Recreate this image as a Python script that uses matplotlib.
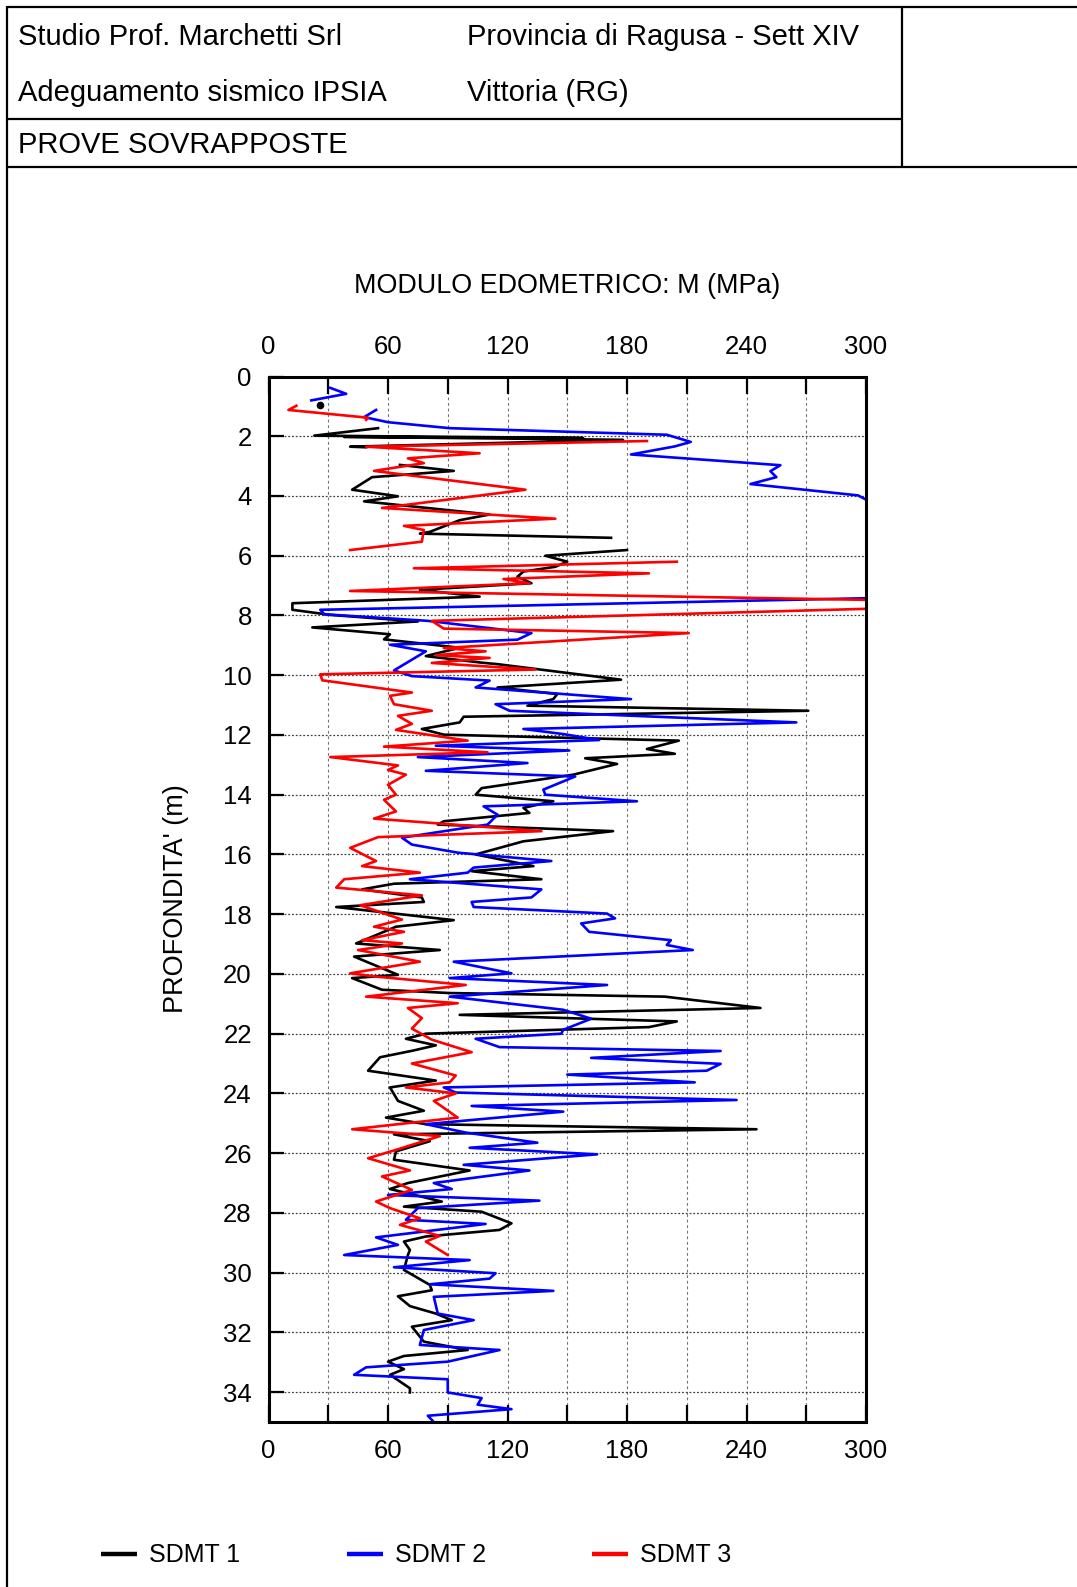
import numpy as np
import matplotlib
matplotlib.use("Agg")
import matplotlib.pyplot as plt
from matplotlib.lines import Line2D
from matplotlib.ticker import MultipleLocator, FuncFormatter

plt.rcParams['font.family'] = ['Liberation Sans', 'DejaVu Sans']

nan = np.nan

# ---------------------------------------------------------------- data
# SDMT 1 (black): depth (m) and constrained modulus M (MPa); nan = gap
sdmt1_depth = [1.73, 1.98, 2.06, 2.02, 2.12, 2.35, 2.37, nan, 2.96, 3.16, 3.37, 3.79,
               4.01, 4.18, 4.62, 4.81, 5.2, 5.26, 5.4, nan, 5.81, 6.0, 6.2, 6.37, 6.53,
               6.7, 6.92, 7.14, 7.37, 7.59, 7.81, 7.98, 8.2, 8.4, 8.63, 8.8, 9.08, 9.36,
               9.58, 9.63, 10.15, 10.41, 10.63, 10.8, 11.02, 11.19, 11.39, 11.58, 11.8,
               11.99, 12.19, 12.47, 12.63, 12.78, 12.97, 13.33, 13.78, 14.0, 14.22, 14.44,
               14.61, 14.89, 15.0, 15.22, 15.56, 16.0, 16.39, 16.56, 16.83, 16.98, 17.17,
               17.44, 17.59, 17.76, 18.2, 18.42, 18.98, 19.2, 19.42, 20.03, 20.14, 20.53,
               20.64, 20.76, 21.14, 21.37, 21.59, 21.78, 22.0, 22.17, 22.39, 22.56, 22.79,
               23.24, 23.57, 23.8, 24.25, 24.58, 24.81, 25.03, 25.2, 25.37, 25.6, 25.94,
               26.22, 26.58, 27.0, 27.2, 27.62, 27.79, 27.96, 28.35, 28.57, 28.79, 28.96,
               29.24, 29.41, 29.91, 30.41, 30.59, 30.79, 31.12, 31.37, 31.59, 31.81, 32.31,
               32.59, 32.79, 32.98, 33.23, 33.42, 33.87, 34.01]
sdmt1_m = [55, 23, 158, 38, 178, 41, 49, nan, 66, 93, 52, 42,
           65, 48, 111, 96, 81, 76, 172, nan, 180, 139, 150, 144, 128,
           125, 132, 76, 106, 12, 12, 31, 75, 22, 61, 58, 96, 79,
           107, 115, 177, 115, 145, 143, 130, 271, 98, 96, 77,
           88, 206, 190, 204, 159, 175, 153, 107, 104, 143, 128,
           131, 88, 85, 173, 128, 104, 133, 102, 137, 63, 47,
           77, 78, 34, 93, 64, 44, 86, 43, 65, 42, 57,
           91, 199, 247, 96, 205, 191, 79, 69, 84, 73, 56,
           50, 84, 61, 65, 78, 59, 79, 245, 63, 81, 64,
           63, 101, 70, 61, 87, 68, 107, 122, 116, 79, 68,
           71, 70, 68, 81, 82, 65, 71, 84, 92, 72, 78,
           100, 68, 60, 68, 61, 71, 71]
sdmt1_point_depth = [0.97]
sdmt1_point_m = [26]

# SDMT 2 (blue)
sdmt2_depth = [0.38, 0.58, 0.80, nan, 1.12, 1.36, 1.53, 1.73, 1.95, 2.19, 2.34, 2.61,
               2.97, 3.17, 3.37, 3.60, 3.98, 4.12, 4.3, 7.38, 7.81, 7.96, 8.18, 8.59,
               8.81, 8.98, 9.2, 9.84, 10.03, 10.18, 10.41, 10.8, 10.97, 11.19, 11.58,
               11.8, 11.97, 12.17, 12.36, 12.52, 12.74, 12.94, 13.2, 13.39, 13.83, 14.0,
               14.22, 14.39, 14.67, 15.0, 15.11, 15.44, 15.67, 15.94, 16.22, 16.44, 16.61,
               16.83, 17.17, 17.44, 17.59, 17.76, 17.98, 18.14, 18.31, 18.59, 18.87, 19.03,
               19.2, 19.59, 19.98, 20.14, 20.37, 20.76, 21.2, 21.5, 21.87, 22.0, 22.17,
               22.45, 22.58, 22.81, 23.01, 23.24, 23.37, 23.63, 23.8, 23.97, 24.22, 24.42,
               24.61, 25.03, 25.31, 25.65, 25.82, 26.04, 26.39, 26.58, 27.0, 27.2, 27.4,
               27.59, 27.84, 28.23, 28.37, 28.82, 29.07, 29.41, 29.58, 29.82, 30.02, 30.2,
               30.39, 30.61, 30.81, 31.37, 31.59, 31.92, 32.42, 32.59, 32.98, 33.17, 33.42,
               33.57, 34.01, 34.2, 34.42, 34.57, 34.79, 35.0]
sdmt2_m = [31, 39, 21.5, nan, 54, 48, 60, 91, 200, 212, 204, 182,
           257, 252, 255, 242, 296, 300, 330, 330, 26, 28, 80, 132,
           125, 61, 79, 63, 72, 111, 104, 182, 114, 121, 265,
           128, 148, 166, 84, 151, 75, 130, 79, 154, 138, 139,
           185, 108, 115, 110, 99, 67, 72, 95, 142, 103, 100,
           71, 137, 132, 102, 103, 170, 174, 157, 161, 202, 200,
           213, 93, 122, 91, 170, 91, 148, 162, 148, 147, 104,
           116, 227, 162, 227, 220, 150, 214, 88, 94, 235, 102,
           148, 79, 99, 135, 101, 165, 98, 131, 83, 92, 60,
           136, 75, 69, 109, 54, 65, 38, 101, 63, 114, 111,
           81, 143, 83, 85, 103, 78, 76, 116, 90, 49, 43,
           90, 90, 107, 105, 122, 80, 83]

# SDMT 3 (red)
sdmt3_depth = [0.98, 1.12, 1.38, 1.45, nan, 2.16, 2.35, 2.57, 2.74, 2.9, 3.16, 3.79,
               4.40, 4.76, 5.0, 5.14, 5.53, 5.81, nan, 6.2, 6.42, 6.59, 6.78, 6.92, 7.18,
               7.5, 7.75, 8.18, 8.44, 8.59, 9.09, 9.2, 9.33, 9.42, 9.59, 9.81, 9.97, 10.17,
               10.58, 10.69, 10.97, 11.19, 11.36, 11.63, 11.83, 12.19, 12.39, 12.58, 12.74,
               13.02, 13.17, 13.33, 13.67, 14.0, 14.17, 14.56, 14.8, 15.22, 15.42, 15.78,
               16.22, 16.39, 16.61, 16.83, 17.11, 17.37, 17.7, 18.18, 18.42, 18.59, 18.87,
               18.98, 19.2, 19.59, 19.98, 20.09, 20.37, 20.76, 20.98, 21.14, 21.48, 21.83,
               22.2, 22.62, 23.0, 23.4, 23.63, 23.8, 24.0, 24.25, 24.81, 25.2, 25.43, 25.89,
               26.17, 26.58, 26.78, 27.23, 27.62, 27.84, 28.18, 28.4, 28.77, 28.96, 29.41]
sdmt3_m = [14, 10, 50, 49, nan, 190, 49, 106, 70, 78, 53, 129,
           57, 144, 68, 78, 77, 41, nan, 205, 73, 191, 118, 131, 41,
           320, 315, 82, 88, 211, 88, 109, 84, 111, 82, 134, 26, 27,
           72, 61, 63, 82, 65, 72, 64, 100, 58, 110, 31,
           65, 60, 69, 60, 64, 58, 64, 53, 137, 55, 41,
           54, 47, 76, 38, 34, 77, 46, 67, 53, 68, 47,
           67, 45, 76, 41, 54, 99, 49, 95, 70, 77, 72,
           82, 102, 72, 94, 91, 69, 94, 83, 95, 42, 86, 64,
           50, 71, 57, 72, 54, 61, 76, 66, 86, 79, 90]

series_labels = ["SDMT 1", "SDMT 2", "SDMT 3"]
series_colors = ["black", "#0000ff", "#ff0000"]

header_left = ["Studio Prof. Marchetti Srl", "Adeguamento sismico IPSIA", "PROVE SOVRAPPOSTE"]
header_right = ["Provincia di Ragusa - Sett XIV", "Vittoria (RG)"]
chart_title = "MODULO EDOMETRICO: M (MPa)"
depth_label = "PROFONDITA' (m)"

# ---------------------------------------------------------------- figure
W, H = 1077, 1587
fig = plt.figure(figsize=(W / 100, H / 100), dpi=100)


def fx(x):
    return x / W


def fy(y):
    return 1 - y / H


def rule(x0, y0, x1, y1, lw=1.6):
    fig.add_artist(Line2D([fx(x0), fx(x1)], [fy(y0), fy(y1)],
                          color="black", lw=lw, solid_capstyle="butt"))


# title block frame
rule(7, 7, W, 7)
rule(7, 6, 7, H)
rule(7, 118.5, 902, 118.5)
rule(7, 167, W, 167)
rule(902, 7, 902, 167)

hdr = dict(fontsize=21, va="center", ha="left")
fig.text(fx(18), fy(37), header_left[0], **hdr)
fig.text(fx(18), fy(93), header_left[1], **hdr)
fig.text(fx(18), fy(145), header_left[2], **hdr)
fig.text(fx(467), fy(37), header_right[0], **hdr)
fig.text(fx(467), fy(93), header_right[1], **hdr)

# ---------------------------------------------------------------- axes
ax_l, ax_r, ax_t, ax_b = 268.5, 866.0, 376.5, 1422.0
ax = fig.add_axes([fx(ax_l), fy(ax_b), (ax_r - ax_l) / W, (ax_b - ax_t) / H])

ax.plot(sdmt1_m, sdmt1_depth, color=series_colors[0], lw=1.9, label=series_labels[0])
ax.plot(sdmt2_m, sdmt2_depth, color=series_colors[1], lw=1.9, label=series_labels[1])
ax.plot(sdmt3_m, sdmt3_depth, color=series_colors[2], lw=1.9, label=series_labels[2])
ax.plot(sdmt1_point_m, sdmt1_point_depth, "o", color=series_colors[0], ms=4.5)

ax.set_xlim(0, 300)
ax.set_ylim(35, 0)

ax.xaxis.set_major_locator(MultipleLocator(30))
ax.xaxis.set_major_formatter(FuncFormatter(lambda v, p: f"{v:.0f}" if round(v) % 60 == 0 else ""))
ax.yaxis.set_major_locator(MultipleLocator(2))
ax.yaxis.set_major_formatter(FuncFormatter(lambda v, p: f"{v:.0f}" if v < 35 else ""))

ax.tick_params(axis="x", which="major", direction="in", length=12, width=1.6,
               top=True, bottom=True, labeltop=True, labelbottom=True,
               labelsize=18.5, pad=12.5)
ax.tick_params(axis="y", which="major", direction="in", length=11, width=1.6,
               left=True, right=False, labelsize=18.5, pad=12)

ax.grid(axis="x", color="0.45", ls=(0, (2.5, 2.5)), lw=0.8)
ax.grid(axis="y", color="0.25", ls=(0, (1.5, 1.5)), lw=0.9)
ax.set_axisbelow(True)
for s in ax.spines.values():
    s.set_linewidth(2.2)

fig.text(fx((ax_l + ax_r) / 2), fy(286), chart_title, fontsize=19.4,
         ha="center", va="center")
fig.text(fx(176), fy(899), depth_label, fontsize=19.5, rotation=90,
         ha="center", va="center")

# legend row
leg_x = [101, 347, 592]
for lx, lab, col in zip(leg_x, series_labels, series_colors):
    fig.add_artist(Line2D([fx(lx), fx(lx + 36)], [fy(1554), fy(1554)], color=col, lw=3.2,
                          solid_capstyle="butt"))
    fig.text(fx(lx + 48), fy(1555), lab, fontsize=18, ha="left", va="center")

fig.savefig("out.png", dpi=100)
